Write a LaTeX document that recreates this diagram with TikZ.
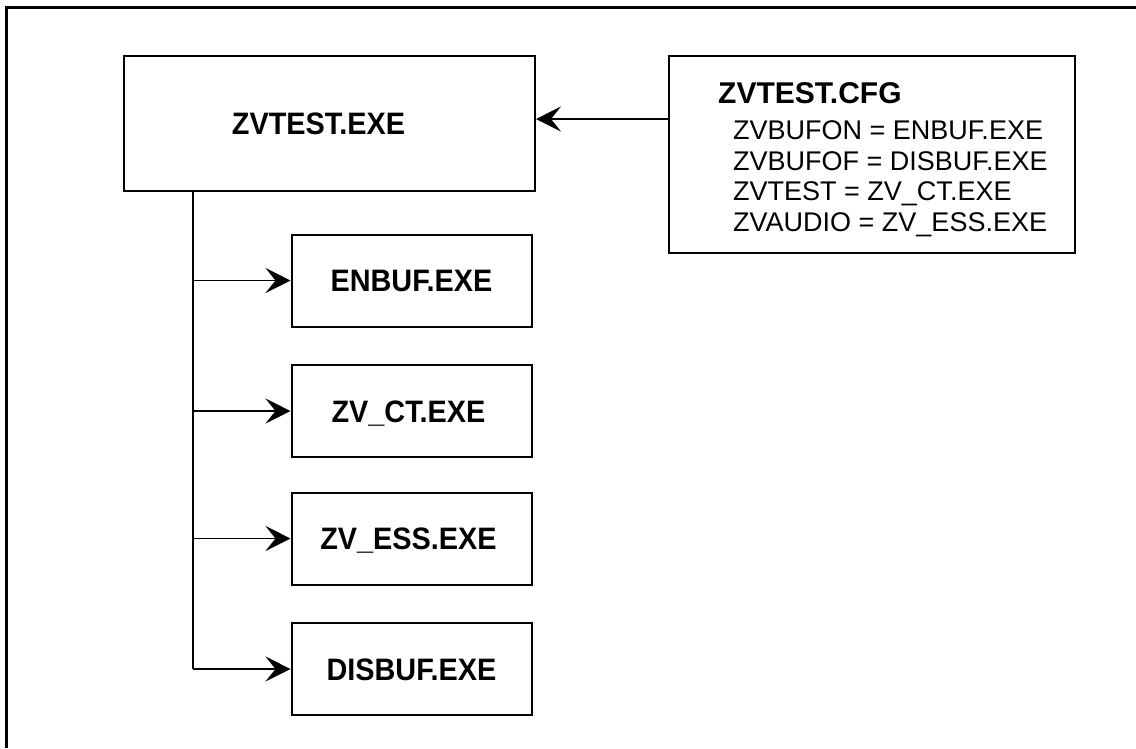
\documentclass[tikz,border=0pt]{standalone}
\usepackage{fontspec}
\setmainfont{Liberation Sans}
\newfontfamily\condbold[FakeStretch=0.93]{Liberation Sans Bold}
\usetikzlibrary{arrows.meta}
\begin{document}
\begin{tikzpicture}[x=1pt,y=-1pt,
  box/.style={draw, line width=2pt, inner sep=0pt, font=\fontsize{31}{32}\selectfont\condbold, text height=22pt, text depth=0pt},
  conn/.style={line width=1.7pt},
  arr/.style={conn, -{Stealth[length=25pt,width=25pt,inset=10pt]}},
  cfgtitle/.style={anchor=base west, inner sep=0pt, font=\fontsize{30}{32}\selectfont\bfseries},
  cfgtext/.style={anchor=base west, inner sep=0pt, font=\fontsize{27}{30}\selectfont}
]
\useasboundingbox (0,0) rectangle (1136,748);
\draw[line width=3pt] (6,748) -- (6,7) -- (1136,7);

\node[box, minimum width=411pt, minimum height=135pt] (main) at (329.5,123.5) {ZVTEST.EXE\hspace*{22pt}};
\node[box, minimum width=406pt, minimum height=197pt] (cfg) at (872,154.5) {};
\node[cfgtitle] (cfgt) at (718,103) {ZVTEST.CFG};
\node[cfgtext] (l1) at (733,139) {ZVBUFON = ENBUF.EXE};
\node[cfgtext] (l2) at (733,170) {ZVBUFOF = DISBUF.EXE};
\node[cfgtext] (l3) at (733,200) {ZVTEST = ZV\_CT.EXE};
\node[cfgtext] (l4) at (733,231) {ZVAUDIO = ZV\_ESS.EXE};

\node[box, minimum width=240pt, minimum height=92pt] (enbuf) at (411.5,280.5) {ENBUF.EXE};
\node[box, minimum width=240pt, minimum height=92pt] (zvct) at (411.5,411) {ZV\_CT.EXE\hspace*{6pt}};
\node[box, minimum width=240pt, minimum height=92pt] (zvess) at (411.5,538.5) {ZV\_ESS.EXE\hspace*{6pt}};
\node[box, minimum width=240pt, minimum height=92pt] (disbuf) at (411.5,669) {DISBUF.EXE};

\coordinate (t) at (193,0);
\coordinate (a) at (0,119);
\draw[arr] (cfg.west |- a) -- (main.east |- a);
\draw[conn] (main.south -| t) -- (t |- disbuf.west);
\draw[arr] (t |- enbuf.west) -- (enbuf.west);
\draw[arr] (t |- zvct.west) -- (zvct.west);
\draw[arr] (t |- zvess.west) -- (zvess.west);
\draw[arr] (t |- disbuf.west) -- (disbuf.west);
\end{tikzpicture}
\end{document}
